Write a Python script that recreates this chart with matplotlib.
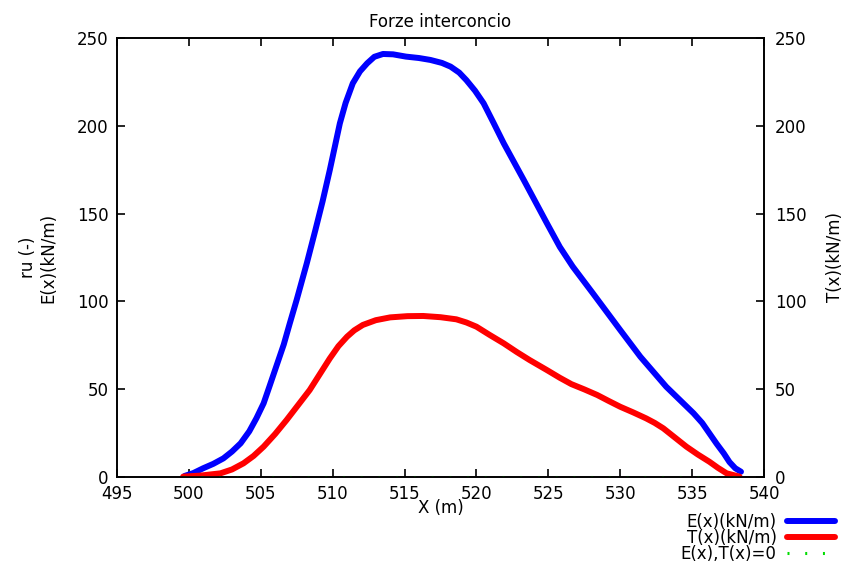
import numpy as np
import matplotlib.pyplot as plt

plt.rcParams['font.family'] = ['DejaVu Sans']

# E(x) curve
E_x = [499.7, 500.3, 501.0, 501.7, 502.4, 503.0, 503.6, 504.2, 504.7, 505.2,
       505.6, 506.1, 506.6, 507.0, 507.5, 508.2, 508.8, 509.3, 509.8, 510.5,
       510.9, 511.4, 511.9, 512.4, 512.9, 513.5, 514.2, 515.1, 516.0, 516.8,
       517.6, 518.2, 518.8, 519.3, 519.9, 520.5, 521.2, 521.9, 523.3, 524.9,
       525.8, 526.7, 528.1, 530.0, 531.4, 533.2, 535.1, 535.7, 536.2, 536.7,
       537.2, 537.6, 538.0, 538.4]
E_y = [0.6, 2.2, 5, 7.5, 10.6, 14.5, 19.2, 26, 33.5, 42,
       51.5, 63.5, 75.5, 87, 101, 121.7, 140.7, 157, 174.8, 201.4,
       213, 224.2, 231, 235.6, 239.3, 240.9, 240.7, 239.4, 238.6, 237.5,
       235.8, 233.7, 230.3, 226, 220, 212.8, 201.5, 190, 169, 144.5,
       131, 119.8, 104.6, 83.7, 68.5, 51.4, 36.3, 30.8, 24.9, 19,
       13.5, 8.5, 5, 3]

# T(x) curve
T_x = [499.6, 500.8, 502.2, 503.0, 503.8, 504.5, 505.2, 506.0, 506.8, 507.6,
       508.4, 509.1, 509.8, 510.4, 511.0, 511.5, 512.1, 513.0, 514.0, 515.2,
       516.3, 517.5, 518.6, 519.3, 520.0, 520.9, 521.9, 522.8, 523.7, 524.9,
       525.8, 526.6, 527.5, 528.4, 529.2, 530.0, 530.9, 531.8, 532.4, 533.0,
       533.8, 534.6, 535.4, 536.2, 536.8, 537.4, 538.3]
T_y = [0.2, 0.8, 2.1, 4.3, 7.8, 12, 17.3, 24.5, 32.5, 41,
       49.5, 58.5, 67.5, 74.5, 79.9, 83.5, 86.6, 89.3, 90.9, 91.6,
       91.7, 91, 89.8, 88, 85.6, 81, 76.1, 71.2, 66.6, 60.9,
       56.5, 52.9, 49.9, 46.7, 43.3, 40, 36.8, 33.4, 30.8, 27.7,
       22.5, 17.3, 12.8, 8.7, 5.2, 2.1, 0.2]

# zero line
Z_x = [499.6, 538.4]
Z_y = [0, 0]

xticks = np.arange(495, 541, 5)
yticks = np.arange(0, 251, 50)

fig = plt.figure(figsize=(8.51, 5.65), dpi=100)
ax = fig.add_axes([117/851, 1-477/565, (764-117)/851, (477-38)/565])
ax2 = ax.twinx()

l1, = ax.plot(E_x, E_y, color='#0000ff', lw=4.3, solid_joinstyle='round',
              solid_capstyle='round', label='E(x)(kN/m)', zorder=3)
l2, = ax.plot(T_x, T_y, color='#ff0000', lw=4.3, solid_joinstyle='round',
              solid_capstyle='round', label='T(x)(kN/m)', zorder=3)
l3, = ax.plot(Z_x, Z_y, color='#00dd00', lw=2.2, linestyle=(0, (0.65, 5.15)),
              solid_capstyle='butt', label='E(x),T(x)=0', zorder=4)

for a in (ax, ax2):
    a.set_xlim(495, 540)
    a.set_ylim(0, 250)
    a.set_yticks(yticks)
    for s in a.spines.values():
        s.set_linewidth(1.2)
ax.set_xticks(xticks)
ax.tick_params(axis='both', direction='in', length=6, width=1.2,
               labelsize=12, top=True, pad=6)
ax2.tick_params(axis='y', direction='in', length=6, width=1.2,
                labelsize=12, pad=8)

ax.set_title('Forze interconcio', fontsize=12, pad=8)
ax.set_xlabel('X (m)', fontsize=12, labelpad=-3)
ax.set_ylabel('ru (-)\nE(x)(kN/m)', fontsize=12, labelpad=14, linespacing=1.2)
ax2.set_ylabel('T(x)(kN/m)', fontsize=12, labelpad=14)

ax.legend(handles=[l1, l2, l3], loc='upper right',
          bbox_to_anchor=(835/851, 1-513/565), bbox_transform=fig.transFigure,
          frameon=False, markerfirst=False, fontsize=12, handlelength=2.9,
          handletextpad=0.6, labelspacing=-0.12, borderpad=0, borderaxespad=0)

fig.savefig('out.png', dpi=100)
